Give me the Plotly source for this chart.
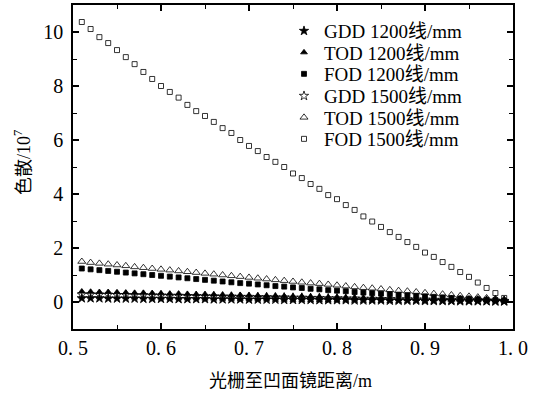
import plotly.graph_objects as go

x_vals = [0.51, 0.52, 0.53, 0.54, 0.55, 0.56, 0.57, 0.58, 0.59, 0.60,
          0.61, 0.62, 0.63, 0.64, 0.65, 0.66, 0.67, 0.68, 0.69, 0.70,
          0.71, 0.72, 0.73, 0.74, 0.75, 0.76, 0.77, 0.78, 0.79, 0.80,
          0.81, 0.82, 0.83, 0.84, 0.85, 0.86, 0.87, 0.88, 0.89, 0.90,
          0.91, 0.92, 0.93, 0.94, 0.95, 0.96, 0.97, 0.98, 0.99]

gdd_1200 = [0.14, 0.14, 0.14, 0.13, 0.13, 0.13, 0.13, 0.12, 0.12, 0.12,
            0.12, 0.11, 0.11, 0.11, 0.11, 0.10, 0.10, 0.10, 0.10, 0.09,
            0.09, 0.09, 0.09, 0.08, 0.08, 0.08, 0.08, 0.07, 0.07, 0.07,
            0.07, 0.06, 0.06, 0.06, 0.06, 0.05, 0.05, 0.05, 0.05, 0.04,
            0.04, 0.04, 0.04, 0.03, 0.03, 0.03, 0.03, 0.02, 0.02]
tod_1200 = [0.39, 0.38, 0.37, 0.37, 0.36, 0.35, 0.34, 0.34, 0.33, 0.32,
            0.31, 0.31, 0.30, 0.29, 0.29, 0.28, 0.27, 0.26, 0.26, 0.25,
            0.24, 0.23, 0.23, 0.22, 0.21, 0.21, 0.20, 0.19, 0.18, 0.18,
            0.17, 0.16, 0.15, 0.15, 0.14, 0.13, 0.13, 0.12, 0.11, 0.10,
            0.10, 0.09, 0.08, 0.08, 0.07, 0.07, 0.06, 0.06, 0.05]
fod_1200 = [1.24, 1.21, 1.18, 1.15, 1.12, 1.09, 1.06, 1.03, 1.00, 0.97,
            0.94, 0.91, 0.88, 0.85, 0.82, 0.79, 0.76, 0.73, 0.70, 0.68,
            0.65, 0.62, 0.59, 0.57, 0.54, 0.52, 0.49, 0.47, 0.44, 0.42,
            0.40, 0.37, 0.35, 0.33, 0.31, 0.29, 0.27, 0.25, 0.23, 0.21,
            0.19, 0.17, 0.15, 0.13, 0.12, 0.10, 0.08, 0.07, 0.05]
gdd_1500 = [0.28, 0.28, 0.27, 0.27, 0.26, 0.26, 0.25, 0.25, 0.24, 0.24,
            0.23, 0.23, 0.22, 0.22, 0.21, 0.21, 0.20, 0.20, 0.19, 0.19,
            0.18, 0.18, 0.17, 0.17, 0.16, 0.16, 0.15, 0.15, 0.14, 0.14,
            0.13, 0.13, 0.12, 0.12, 0.11, 0.11, 0.10, 0.10, 0.09, 0.09,
            0.08, 0.08, 0.07, 0.07, 0.06, 0.06, 0.05, 0.05, 0.04]
tod_1500 = [1.50, 1.46, 1.43, 1.40, 1.37, 1.34, 1.30, 1.27, 1.24, 1.21,
            1.18, 1.15, 1.12, 1.09, 1.06, 1.03, 1.00, 0.97, 0.94, 0.91,
            0.88, 0.85, 0.82, 0.79, 0.76, 0.73, 0.70, 0.68, 0.65, 0.62,
            0.59, 0.56, 0.53, 0.51, 0.48, 0.45, 0.42, 0.40, 0.37, 0.34,
            0.31, 0.29, 0.26, 0.23, 0.21, 0.18, 0.15, 0.12, 0.09]
fod_1500 = [10.37, 10.11, 9.81, 9.59, 9.33, 9.07, 8.81, 8.52, 8.26, 8.00,
            7.78, 7.57, 7.30, 7.07, 6.89, 6.67, 6.44, 6.26, 6.00, 5.78,
            5.59, 5.37, 5.19, 5.00, 4.76, 4.59, 4.37, 4.19, 3.96, 3.81,
            3.59, 3.41, 3.17, 2.98, 2.78, 2.59, 2.41, 2.22, 2.04, 1.83,
            1.67, 1.48, 1.30, 1.11, 0.93, 0.72, 0.52, 0.33, 0.15]

series_names = ["GDD 1200线/mm", "TOD 1200线/mm", "FOD 1200线/mm",
                "GDD 1500线/mm", "TOD 1500线/mm", "FOD 1500线/mm"]
series_values = [gdd_1200, tod_1200, fod_1200, gdd_1500, tod_1500, fod_1500]
symbols = ["star", "triangle-up", "square", "star-open", "triangle-up-open", "square-open"]
sizes = [7, 6, 5, 7, 7, 5]

x_tickvals = [0.5, 0.6, 0.7, 0.8, 0.9, 1.0]
x_ticktext = ["0. 5", "0. 6", "0. 7", "0. 8", "0. 9", "1. 0"]
y_tickvals = [0, 2, 4, 6, 8, 10]
y_ticktext = ["0", "2", "4", "6", "8", "10"]

FONT = "Liberation Serif, Noto Sans CJK SC"

# one legend per entry so the rows can sit as close as in the reference
legend_ids = ["legend", "legend2", "legend3", "legend4", "legend5", "legend6"]
legend_rows_px = [31, 52.5, 74, 96, 117.5, 139]
PLOT_TOP, PLOT_H, PLOT_L, PLOT_W = 5, 324, 73, 440

fig = go.Figure()
for name, vals, sym, sz, lid in zip(series_names, series_values, symbols, sizes, legend_ids):
    fig.add_trace(go.Scatter(
        x=x_vals, y=vals, mode="markers", name=name, legend=lid,
        marker=dict(symbol=sym, size=sz, color="black",
                    line=dict(color="black", width=0.8)),
    ))

axis_common = dict(
    showline=True, linecolor="black", linewidth=1.5, mirror="allticks",
    ticks="inside", ticklen=6, tickwidth=1.5, tickcolor="black",
    showgrid=False, zeroline=False,
    tickfont=dict(family=FONT, size=20, color="black"),
)

fig.update_xaxes(
    range=[0.5, 1.0], tickvals=x_tickvals, ticktext=x_ticktext,
    minor=dict(ticks="inside", ticklen=4, tickwidth=1.2, tickcolor="black", dtick=0.05, tick0=0.5),
    **axis_common,
)
fig.update_yaxes(
    range=[-1, 11], tickvals=y_tickvals, ticktext=y_ticktext,
    ticklabelstandoff=4,
    minor=dict(ticks="inside", ticklen=4, tickwidth=1.2, tickcolor="black", dtick=1, tick0=0),
    **axis_common,
)

layout_legends = {}
marker_x_px = 302
for lid, row in zip(legend_ids, legend_rows_px):
    layout_legends[lid] = dict(
        x=(marker_x_px - 18 - PLOT_L) / PLOT_W,
        y=(PLOT_TOP + PLOT_H - row) / PLOT_H,
        xanchor="left", yanchor="middle",
        bgcolor="rgba(0,0,0,0)", borderwidth=0,
        font=dict(family=FONT, size=19, color="black"),
        itemwidth=30,
    )

fig.update_layout(
    width=544, height=394,
    margin=dict(l=PLOT_L, r=31, t=PLOT_TOP, b=65, autoexpand=False),
    paper_bgcolor="white", plot_bgcolor="white",
    showlegend=True,
    **layout_legends,
)

fig.add_annotation(
    text="光栅至凹面镜距离/m", xref="paper", yref="paper",
    x=(290 - PLOT_L) / PLOT_W, y=(PLOT_TOP + PLOT_H - 381) / PLOT_H,
    xanchor="center", yanchor="middle", showarrow=False,
    font=dict(family=FONT, size=18, color="black"),
)
fig.add_annotation(
    text="色散/10<sup>7</sup>", xref="paper", yref="paper",
    x=(23 - PLOT_L) / PLOT_W, y=(PLOT_TOP + PLOT_H - 163) / PLOT_H,
    xanchor="center", yanchor="middle", showarrow=False, textangle=-90,
    font=dict(family=FONT, size=18, color="black"),
)

fig.write_html("out.html")
